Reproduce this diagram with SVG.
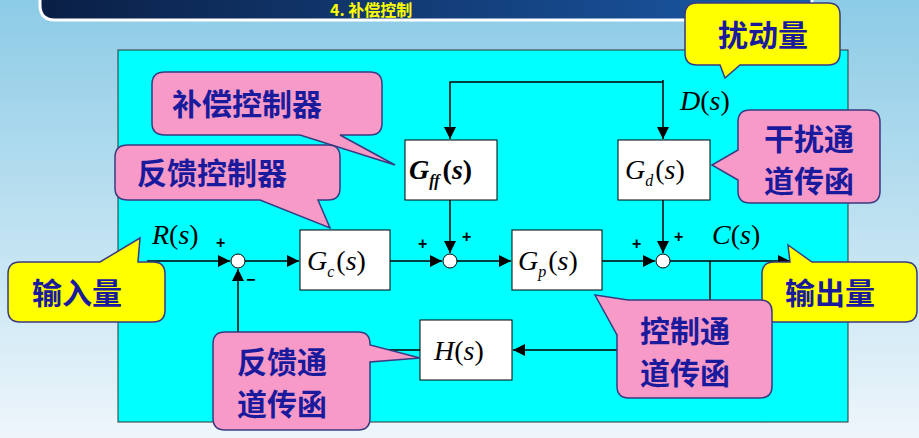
<svg xmlns="http://www.w3.org/2000/svg" width="919" height="438" viewBox="0 0 919 438">
<defs>
<linearGradient id="bg" x1="0" y1="0" x2="0" y2="1"><stop offset="0" stop-color="#8ccbe6"/><stop offset="1" stop-color="#eef6fb"/></linearGradient>
<linearGradient id="tb" x1="0" y1="0" x2="1" y2="0"><stop offset="0" stop-color="#0a1f45"/><stop offset="1" stop-color="#1b5aa8"/></linearGradient>
<marker id="ar" viewBox="0 0 10 10" refX="10" refY="5" markerWidth="12" markerHeight="12" markerUnits="userSpaceOnUse" orient="auto"><path d="M0,0 L10,5 L0,10 Z" fill="#000"/></marker>
<style>
.ln{stroke:#000;stroke-width:1.5;fill:none}
.bx{fill:#fff;stroke:#000;stroke-width:1}
.sj{fill:#fff;stroke:#000;stroke-width:1}
.m{font-family:"Liberation Serif",serif;font-size:28px;font-style:italic;fill:#000}
.sg{font-family:"Liberation Sans",sans-serif;font-size:16px;font-weight:bold;fill:#000}
.pk{fill:#f79ac8;stroke:#3a3a80;stroke-width:1.5}
.yl{fill:#ffff00;stroke:#3a3a80;stroke-width:1.5}
.cn{font-family:"Noto Sans CJK SC",sans-serif;font-size:30px;font-weight:bold;fill:#1a1a9c}
</style>
</defs>
<rect width="919" height="438" fill="url(#bg)"/>
<g id="title"><path d="M40,-10 H812 V20 H55 Q40,20 40,5 Z" fill="url(#tb)" stroke="#fff" stroke-width="3"/><text x="330" y="16" font-family="Noto Sans CJK SC,sans-serif" font-size="16" font-weight="bold" fill="#ffff00">4. 补偿控制</text></g>
<rect x="118" y="50" width="730" height="372" fill="#00ffff" stroke="#333" stroke-width="1"/>
<g id="connectors">
<path class="ln" d="M147,261 H230" marker-end="url(#ar)"/>
<path class="ln" d="M245,261 H299" marker-end="url(#ar)"/>
<path class="ln" d="M390,261 H442" marker-end="url(#ar)"/>
<path class="ln" d="M457,261 H511" marker-end="url(#ar)"/>
<path class="ln" d="M602,261 H655" marker-end="url(#ar)"/>
<path class="ln" d="M670,261 H790" marker-end="url(#ar)"/>
<path class="ln" d="M710,261 V350 H513" marker-end="url(#ar)"/>
<path class="ln" d="M420,350 H238 V269" marker-end="url(#ar)"/>
<path class="ln" d="M663,80 V139" marker-end="url(#ar)"/>
<path class="ln" d="M663,82 H450 V139" marker-end="url(#ar)"/>
<path class="ln" d="M450,200 V253" marker-end="url(#ar)"/>
<path class="ln" d="M663,200 V253" marker-end="url(#ar)"/>
</g>
<g id="sum1"><circle class="sj" cx="238" cy="261" r="7"/><text class="sg" x="216" y="248">+</text><text class="sg" x="246" y="285">−</text></g>
<g id="sum2"><circle class="sj" cx="450" cy="261" r="7"/><text class="sg" x="418" y="249">+</text><text class="sg" x="462" y="242">+</text></g>
<g id="sum3"><circle class="sj" cx="663" cy="261" r="7"/><text class="sg" x="632" y="249">+</text><text class="sg" x="674" y="242">+</text></g>
<g id="Gc"><rect class="bx" x="300" y="230" width="90" height="60"/><text class="m" x="307" y="270">G<tspan font-size="16" dy="7">c</tspan><tspan dy="-7" font-style="normal" dx="2">(</tspan>s<tspan font-style="normal">)</tspan></text></g>
<g id="Gp"><rect class="bx" x="512" y="230" width="90" height="60"/><text class="m" x="518" y="270">G<tspan font-size="16" dy="7">p</tspan><tspan dy="-7" font-style="normal" dx="2">(</tspan>s<tspan font-style="normal">)</tspan></text></g>
<g id="Gff"><rect class="bx" x="405" y="140" width="92" height="60"/><text class="m" x="409" y="179" font-weight="bold">G<tspan font-size="16" dy="7">ff</tspan><tspan dy="-7" font-style="normal" dx="3">(</tspan>s<tspan font-style="normal">)</tspan></text></g>
<g id="Gd"><rect class="bx" x="618" y="140" width="92" height="60"/><text class="m" x="625" y="179">G<tspan font-size="16" dy="7">d</tspan><tspan dy="-7" font-style="normal" dx="2">(</tspan>s<tspan font-style="normal">)</tspan></text></g>
<g id="H"><rect class="bx" x="420" y="320" width="92" height="60"/><text class="m" x="434" y="360">H<tspan font-style="normal">(</tspan>s<tspan font-style="normal">)</tspan></text></g>
<text class="m" x="152" y="244">R<tspan font-style="normal">(</tspan>s<tspan font-style="normal">)</tspan></text>
<text class="m" x="712" y="244">C<tspan font-style="normal">(</tspan>s<tspan font-style="normal">)</tspan></text>
<text class="m" x="680" y="110">D<tspan font-style="normal">(</tspan>s<tspan font-style="normal">)</tspan></text>
<g id="c1"><path class="pk" d="M165,72 H370 Q382,72 382,84 V123 Q382,135 370,135 H340 L395,165 L300,135 H165 Q152,135 152,123 V84 Q152,72 165,72 Z"/><text class="cn" x="172" y="115">补偿控制器</text></g>
<g id="c2"><path class="pk" d="M128,145 H328 Q340,145 340,157 V188 Q340,200 328,200 H318 L330,228 L260,200 H128 Q115,200 115,188 V157 Q115,145 128,145 Z"/><text class="cn" x="137" y="184">反馈控制器</text></g>
<g id="c3"><path class="pk" d="M750,110 H868 Q880,110 880,122 V191 Q880,203 868,203 H750 Q738,203 738,191 V180 L712,165 L738,150 V122 Q738,110 750,110 Z"/><text class="cn" x="764" y="150">干扰通</text><text class="cn" x="764" y="192">道传函</text></g>
<g id="c4"><path class="yl" d="M697,3 H828 Q840,3 840,15 V53 Q840,65 828,65 H740 L725,78 L720,65 H697 Q685,65 685,53 V15 Q685,3 697,3 Z"/><text class="cn" x="718" y="46">扰动量</text></g>
<g id="c5"><path class="yl" d="M20,262 H100 L140,238 L138,262 H153 Q165,262 165,274 V310 Q165,322 153,322 H20 Q8,322 8,310 V274 Q8,262 20,262 Z"/><text class="cn" x="32" y="304">输入量</text></g>
<g id="c6"><path class="yl" d="M774,262 H790 L788,245 L812,262 H905 Q917,262 917,274 V310 Q917,322 905,322 H774 Q762,322 762,310 V274 Q762,262 774,262 Z"/><text class="cn" x="785" y="304">输出量</text></g>
<g id="c7"><path class="pk" d="M629,300 H760 Q772,300 772,312 V386 Q772,398 760,398 H629 Q617,398 617,386 V335 L595,295 L628,300 Z"/><text class="cn" x="640" y="342">控制通</text><text class="cn" x="640" y="384">道传函</text></g>
<g id="c8"><path class="pk" d="M225,332 H358 Q370,332 370,344 V345 L420,358 L370,362 V418 Q370,430 358,430 H225 Q213,430 213,418 V344 Q213,332 225,332 Z"/><text class="cn" x="237" y="373">反馈通</text><text class="cn" x="237" y="415">道传函</text></g>
</svg>
